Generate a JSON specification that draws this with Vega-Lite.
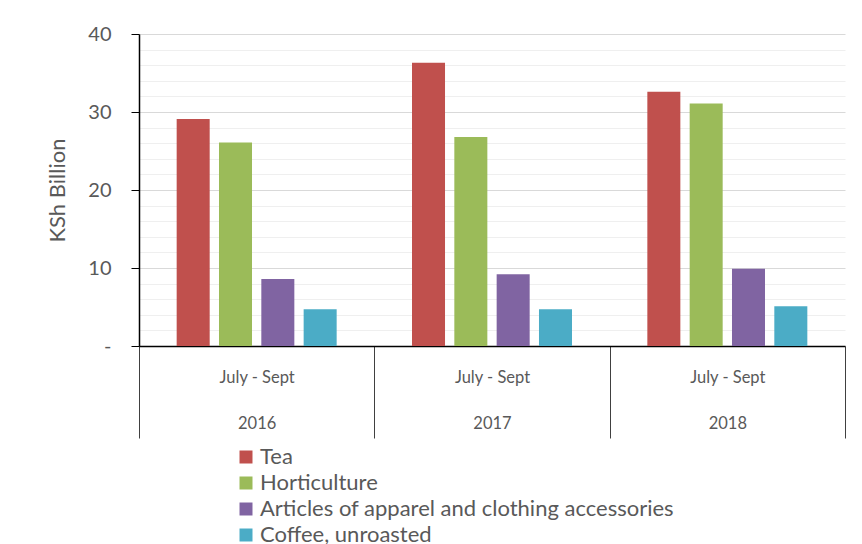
{
  "$schema": "https://vega.github.io/schema/vega-lite/v6.json",
  "width": 706,
  "height": 312,
  "autosize": "none",
  "padding": {"left": 139, "top": 34, "right": 17, "bottom": 198},
  "background": "white",
  "config": {"view": {"stroke": null}, "font": "Lato"},
  "data": {
    "values": [
      {"year": "2016", "category": "Tea", "value": 29.1},
      {"year": "2016", "category": "Horticulture", "value": 26.1},
      {"year": "2016", "category": "Articles of apparel and clothing accessories", "value": 8.6},
      {"year": "2016", "category": "Coffee, unroasted", "value": 4.7},
      {"year": "2017", "category": "Tea", "value": 36.3},
      {"year": "2017", "category": "Horticulture", "value": 26.8},
      {"year": "2017", "category": "Articles of apparel and clothing accessories", "value": 9.2},
      {"year": "2017", "category": "Coffee, unroasted", "value": 4.7},
      {"year": "2018", "category": "Tea", "value": 32.6},
      {"year": "2018", "category": "Horticulture", "value": 31.1},
      {"year": "2018", "category": "Articles of apparel and clothing accessories", "value": 9.9},
      {"year": "2018", "category": "Coffee, unroasted", "value": 5.1}
    ]
  },
  "mark": {"type": "bar"},
  "encoding": {
    "x": {
      "field": "year",
      "type": "nominal",
      "scale": {"paddingInner": 0, "paddingOuter": 0},
      "axis": {
        "title": null,
        "labelAngle": 0,
        "labelFlush": false,
        "labelOverlap": false,
        "domainColor": "black",
        "domainWidth": 1.5,
        "tickBand": "extent",
        "tickSize": 92,
        "tickColor": "#404040",
        "tickWidth": 1,
        "labelExpr": "datum.label ? ['July - Sept', datum.label] : ''",
        "labelLineHeight": 46,
        "labelFontSize": 16.5,
        "labelColor": "#595959",
        "labelBaseline": "top",
        "labelPadding": -69
      }
    },
    "xOffset": {
      "field": "category",
      "sort": ["Tea", "Horticulture", "Articles of apparel and clothing accessories", "Coffee, unroasted"],
      "scale": {"paddingInner": 0.22, "paddingOuter": 0.89}
    },
    "y": {
      "field": "value",
      "type": "quantitative",
      "scale": {"domain": [0, 40]},
      "axis": {
        "title": "KSh Billion",
        "titleFontSize": 22,
        "titleFontWeight": "normal",
        "titleColor": "#595959",
        "titlePadding": 18,
        "values": [0, 2, 4, 6, 8, 10, 12, 14, 16, 18, 20, 22, 24, 26, 28, 30, 32, 34, 36, 38, 40],
        "labelExpr": "datum.value % 10 === 0 ? (datum.value === 0 ? '-' : datum.label) : ''",
        "gridColor": {"condition": {"test": "datum.value % 10 === 0", "value": "#d9d9d9"}, "value": "#efefef"},
        "gridWidth": 1,
        "tickSize": 8,
        "tickColor": "black",
        "tickOpacity": {"condition": {"test": "datum.value % 10 === 0", "value": 1}, "value": 0},
        "domainColor": "black",
        "domainWidth": 1.5,
        "labelFontSize": 20,
        "labelColor": "#595959",
        "labelPadding": 20
      }
    },
    "color": {
      "field": "category",
      "type": "nominal",
      "sort": ["Tea", "Horticulture", "Articles of apparel and clothing accessories", "Coffee, unroasted"],
      "scale": {
        "domain": ["Tea", "Horticulture", "Articles of apparel and clothing accessories", "Coffee, unroasted"],
        "range": ["#C0504D", "#9BBB59", "#8064A2", "#4BACC6"]
      },
      "legend": {
        "title": null,
        "orient": "none",
        "legendX": 96,
        "legendY": 412,
        "direction": "vertical",
        "symbolType": "square",
        "symbolSize": 169,
        "symbolStrokeWidth": 0,
        "labelFontSize": 22,
        "labelColor": "#595959",
        "labelOffset": 3,
        "labelLimit": 600,
        "rowPadding": 4
      }
    }
  }
}
